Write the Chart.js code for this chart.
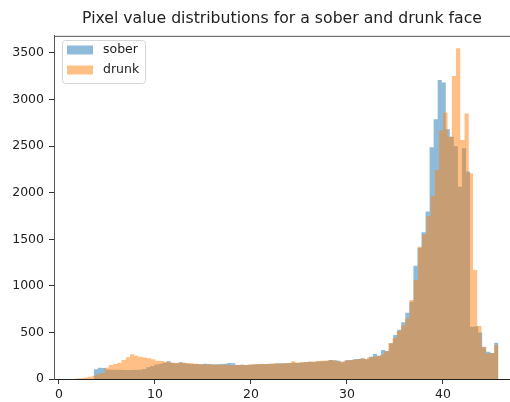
<!DOCTYPE html>
<html>
<head>
<meta charset="utf-8">
<script src="https://cdn.jsdelivr.net/npm/chart.js@4.4.1/dist/chart.umd.min.js"></script>
<style>
  html, body { margin: 0; padding: 0; background: #fff; }
  #wrap { width: 510px; height: 402px; }
</style>
</head>
<body>
<div id="wrap"><canvas id="histChart"></canvas></div>
<script>
// histogram bins (100 per series)
var soberBinStart = 3.62;
var soberBinWidth = 0.4215;
var drunkBinStart = 1.67;
var drunkBinWidth = 0.441;

var soberCounts = [
    105, 120, 118, 102, 100, 99, 98, 97, 96, 97,
    98, 100, 108, 125, 140, 155, 165, 175, 190, 172,
    170, 180, 168, 165, 162, 160, 158, 165, 160, 155,
    158, 160, 165, 172, 170, 150, 152, 150, 152, 155,
    158, 160, 162, 165, 164, 168, 170, 168, 172, 175,
    172, 178, 182, 185, 183, 188, 190, 192, 205, 200,
    195, 180, 200, 205, 212, 215, 222, 212, 240, 268,
    250, 311, 300, 385, 472, 530, 610, 712, 830, 1217,
    1410, 1575, 1797, 2488, 2789, 3211, 3183, 2680, 2600, 2500,
    2065, 2477, 2227, 560, 565, 500, 340, 293, 280, 390
];

var drunkCounts = [
    5, 8, 15, 25, 35, 50, 65, 122, 150, 160,
    175, 204, 233, 265, 250, 240, 230, 222, 212, 197,
    193, 185, 180, 175, 175, 178, 172, 168, 165, 160,
    158, 155, 158, 152, 150, 155, 150, 148, 150, 152,
    150, 155, 158, 160, 162, 160, 165, 168, 165, 170,
    172, 190, 178, 180, 182, 185, 188, 192, 195, 198,
    205, 198, 185, 190, 200, 204, 211, 218, 215, 230,
    240, 245, 260, 294, 383, 440, 515, 575, 650, 848,
    1063, 1421, 1550, 1750, 1965, 2245, 2667, 2860, 2602, 3254,
    3551, 2567, 2850, 2209, 1170, 569, 347, 270, 280, 365
];

var seriesNames = ["sober", "drunk"];
var xTicks = [0, 10, 20, 30, 40];
var yTicks = [0, 500, 1000, 1500, 2000, 2500, 3000, 3500];

// bin left edges + closing right edge, drawn as a stepped filled line
function histPoints(start, width, counts) {
    var pts = [];
    for (var i = 0; i < counts.length; i++) {
        pts.push({ x: start + i * width, y: counts[i] });
    }
    pts.push({ x: start + counts.length * width, y: counts[counts.length - 1] });
    return pts;
}

var blue = 'rgba(31, 119, 180, 0.5)';
var orange = 'rgba(255, 127, 14, 0.5)';

// legend box in the upper left, matplotlib style
var boxLegend = {
    id: 'boxLegend',
    afterDraw: function (chart) {
        var ctx = chart.ctx;
        var x = 62.5, y = 40.5, w = 83, h = 43;
        ctx.save();
        ctx.beginPath();
        ctx.roundRect(x, y, w, h, 3);
        ctx.fillStyle = 'rgba(255,255,255,0.8)';
        ctx.fill();
        ctx.strokeStyle = '#d6d6d6';
        ctx.lineWidth = 1;
        ctx.stroke();
        var items = [
            { label: seriesNames[0], color: blue },
            { label: seriesNames[1], color: orange }
        ];
        ctx.font = '12.5px "DejaVu Sans"';
        ctx.textBaseline = 'middle';
        items.forEach(function (it, i) {
            var cy = 50 + i * 20;
            ctx.fillStyle = it.color;
            ctx.fillRect(67, cy - 4.5, 26, 9);
            ctx.fillStyle = '#222';
            ctx.fillText(it.label, 103, cy);
        });
        ctx.restore();
    }
};

// top spine of the axes frame
var topSpine = {
    id: 'topSpine',
    afterDraw: function (chart) {
        var a = chart.chartArea;
        var ctx = chart.ctx;
        ctx.save();
        ctx.strokeStyle = '#555';
        ctx.lineWidth = 1;
        ctx.beginPath();
        ctx.moveTo(a.left, a.top + 0.5);
        ctx.lineTo(a.right, a.top + 0.5);
        ctx.stroke();
        ctx.restore();
    }
};

Chart.defaults.font.family = '"DejaVu Sans"';
Chart.defaults.font.size = 12.5;
Chart.defaults.color = '#222';

var ctx = document.getElementById('histChart');

new Chart(ctx, {
    type: 'line',
    data: {
        datasets: [{
            label: seriesNames[1],
            data: histPoints(drunkBinStart, drunkBinWidth, drunkCounts),
            stepped: true,
            fill: 'origin',
            backgroundColor: orange,
            borderWidth: 0,
            pointRadius: 0,
            order: 0
        }, {
            label: seriesNames[0],
            data: histPoints(soberBinStart, soberBinWidth, soberCounts),
            stepped: true,
            fill: 'origin',
            backgroundColor: blue,
            borderWidth: 0,
            pointRadius: 0,
            order: 1
        }]
    },
    options: {
        responsive: true,
        maintainAspectRatio: false,
        animation: false,
        layout: { padding: { left: 0, right: 0, top: 0, bottom: 0 } },
        plugins: {
            legend: { display: false },
            tooltip: { enabled: false },
            title: {
                display: true,
                fullSize: false,
                text: 'Pixel value distributions for a sober and drunk face',
                font: { size: 15.7, weight: 'normal' },
                color: '#222',
                padding: { top: 10, bottom: 7 }
            }
        },
        scales: {
            x: {
                type: 'linear',
                min: -0.52,
                max: 46.98,
                afterBuildTicks: function (s) {
                    s.ticks = xTicks.map(function (v) { return { value: v }; });
                },
                afterFit: function (s) { s.height = 23; },
                grid: { drawOnChartArea: false, drawTicks: true, tickLength: 5, color: '#333' },
                border: { display: true, color: '#222' },
                ticks: { padding: 3, maxRotation: 0, callback: function (v) { return String(v); } }
            },
            y: {
                min: 0,
                max: 3684,
                afterBuildTicks: function (s) {
                    s.ticks = yTicks.map(function (v) { return { value: v }; });
                },
                afterFit: function (s) { s.width = 54; },
                grid: { drawOnChartArea: false, drawTicks: true, tickLength: 5, color: '#333' },
                border: { display: true, color: '#555' },
                ticks: { padding: 5, callback: function (v) { return String(v); } }
            }
        }
    },
    plugins: [topSpine, boxLegend]
});
</script>
</body>
</html>
